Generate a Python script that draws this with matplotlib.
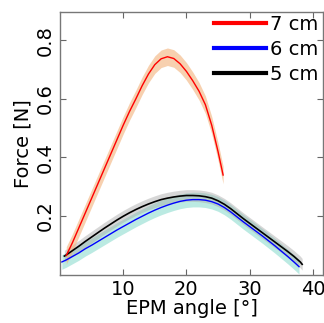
import numpy as np
import matplotlib
matplotlib.use("Agg")
import matplotlib.pyplot as plt

plt.rcParams['font.family'] = ['DejaVu Sans']

# 7 cm (red)
x7 = [1.0, 2, 3, 4, 5, 6, 7, 8, 9, 10, 11, 12, 13, 14, 15, 16, 17, 18, 19, 20, 21, 22, 23, 24, 25, 25.8]
y7 = [0.065, 0.11, 0.16, 0.21, 0.26, 0.31, 0.36, 0.41, 0.46, 0.51, 0.557, 0.60, 0.645, 0.685, 0.717,
      0.737, 0.744, 0.738, 0.72, 0.694, 0.662, 0.626, 0.58, 0.51, 0.42, 0.34]
err7 = 0.03

# 6 cm (blue)
x6 = [0.3, 1, 2, 3, 4, 5, 6, 7, 8, 9, 10, 11, 12, 13, 14, 15, 16, 17, 18, 19, 20, 21, 22, 23, 24, 25,
      26, 27, 28, 29, 30, 31, 32, 33, 34, 35, 36, 37, 37.8]
y6 = [0.043, 0.05, 0.062, 0.074, 0.088, 0.100, 0.113, 0.126, 0.139, 0.152, 0.164, 0.176, 0.188, 0.199,
      0.210, 0.220, 0.229, 0.237, 0.244, 0.250, 0.254, 0.256, 0.256, 0.254, 0.249, 0.241, 0.229, 0.214,
      0.197, 0.180, 0.164, 0.148, 0.132, 0.115, 0.098, 0.080, 0.062, 0.043, 0.027]
err6 = 0.025

# 5 cm (black)
x5 = [0.7, 1, 2, 3, 4, 5, 6, 7, 8, 9, 10, 11, 12, 13, 14, 15, 16, 17, 18, 19, 20, 21, 22, 23, 24, 25,
      26, 27, 28, 29, 30, 31, 32, 33, 34, 35, 36, 37, 38, 38.3]
y5 = [0.063, 0.067, 0.082, 0.097, 0.113, 0.128, 0.143, 0.158, 0.172, 0.186, 0.199, 0.211, 0.222, 0.232,
      0.241, 0.249, 0.256, 0.261, 0.265, 0.268, 0.270, 0.270, 0.269, 0.266, 0.261, 0.252, 0.240, 0.225,
      0.208, 0.191, 0.175, 0.159, 0.143, 0.127, 0.111, 0.095, 0.079, 0.062, 0.043, 0.035]
err5 = 0.02

labels = ["7 cm", "6 cm", "5 cm"]
xticks = [10, 20, 30, 40]
yticks = [0.2, 0.4, 0.6, 0.8]

fig = plt.figure(figsize=(3.24, 3.23), dpi=100)
ax = fig.add_axes([0.185, 0.150, 0.812, 0.813])

def band(x, y, e, color, alpha):
    x = np.asarray(x); y = np.asarray(y)
    ax.fill_between(x, y - e, y + e, color=color, alpha=alpha, lw=0)

band(x6, y6, err6, '#8fdcd0', 0.6)
band(x5, y5, err5, '#a8a8a8', 0.45)
band(x7, y7, err7, '#f2b27a', 0.6)

ax.plot(x6, y6, color='#0000ff', lw=1.0, label=labels[1])
ax.plot(x5, y5, color='black', lw=1.2, label=labels[2])
ax.plot(x7, y7, color='#ff0000', lw=1.0, label=labels[0])

ax.set_xlim(0, 41.6)
ax.set_ylim(0, 0.897)
ax.set_xticks(xticks)
ax.set_xticklabels([str(t) for t in xticks])
ax.set_yticks(yticks)
ax.set_yticklabels([f"{t:.1f}" for t in yticks], rotation=90, va='center')

ax.tick_params(direction='in', length=4, width=0.8, color='#666666', labelsize=14,
               top=True, right=True, pad=4)
for s in ax.spines.values():
    s.set_color('#777777')
    s.set_linewidth(1.0)

ax.set_xlabel("EPM angle [°]", fontsize=14, labelpad=0)
ax.set_ylabel("Force [N]", fontsize=14, labelpad=2)

h, l = ax.get_legend_handles_labels()
order = [2, 0, 1]
leg = ax.legend([h[i] for i in order], [l[i] for i in order], loc='upper right',
                frameon=False, fontsize=14, handlelength=2.7, handletextpad=0.2,
                labelspacing=0.3, borderaxespad=0.0, borderpad=0.1,
                bbox_to_anchor=(0.99, 0.995))
for line in leg.get_lines():
    line.set_linewidth(3)

fig.savefig("out.png", dpi=100)
